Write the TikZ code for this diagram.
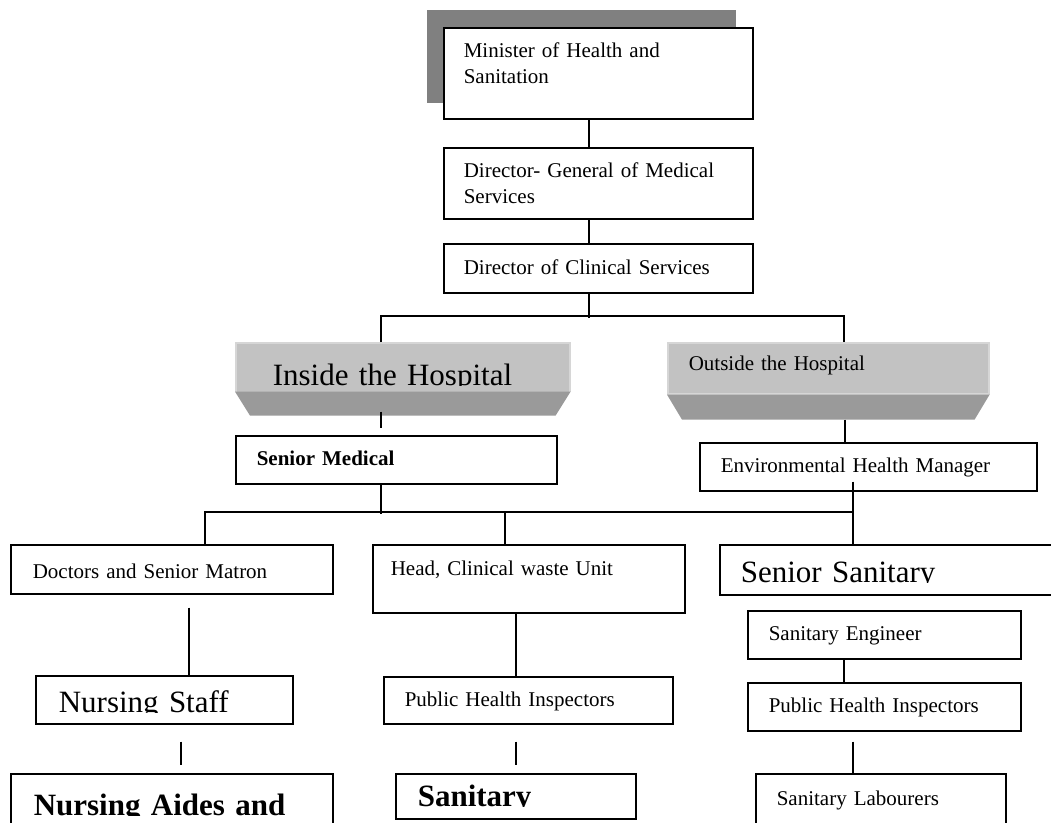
\documentclass[tikz,border=0pt]{standalone}
\usepackage{fontspec}
\setmainfont{Liberation Serif}
\usepackage{tikz}
\definecolor{shadowgray}{HTML}{808080}
\definecolor{bevellight}{HTML}{C2C2C2}
\definecolor{bevelrim}{HTML}{D6D6D6}
\definecolor{beveldark}{HTML}{9A9A9A}
\tikzset{
  orgbox/.style={draw,fill=white,line width=1.6pt,anchor=north west,align=left,
    inner ysep=0pt,font=\fontsize{21pt}{26pt}\selectfont},
  bevelbox/.style={draw=bevelrim,fill=bevellight,line width=1.6pt,anchor=north west,
    align=left,inner ysep=0pt,font=\fontsize{21pt}{26pt}\selectfont},
  boldtext/.style={font=\fontsize{21pt}{26pt}\selectfont\bfseries},
  bigtext/.style={font=\fontsize{31pt}{37pt}\selectfont},
  bigbold/.style={font=\fontsize{31pt}{37pt}\selectfont\bfseries},
  link/.style={line width=1.4pt}
}

\begin{document}
\begin{tikzpicture}[x=1pt,y=-1pt]
  \clip (0,0) rectangle (1051,822);

  % top of the chain
  \fill[shadowgray] (427,10) rectangle (736,103);
  \node[orgbox,text width=269pt,inner xsep=20pt,text height=30pt,text depth=61pt]
    (minister) at (443,27) {Minister of Health and\\Sanitation};
  \node[orgbox,text width=269pt,inner xsep=20pt,text height=30pt,text depth=41pt]
    (dgms) at (443,147) {Director- General of Medical\\Services};
  \node[orgbox,text width=269pt,inner xsep=20pt,text height=31pt,text depth=18pt]
    (dcs) at (443,243) {Director of Clinical Services};

  % the two branches
  \node[bevelbox,bigtext,text width=260pt,inner xsep=37pt,text height=43pt,text depth=5pt]
    (inside) at (235,342) {Inside the Hospital};
  \fill[bevellight] ([xshift=2pt,yshift=-0.5pt]inside.base west) rectangle ([xshift=-2pt]inside.south east);
  \fill[beveldark] (inside.south west) -- (inside.south east) -- ++(-15,24)
    -- ([shift={(15,24)}]inside.south west) -- cycle;
  \node[bevelbox,text width=279pt,inner xsep=21pt,text height=28pt,text depth=23pt]
    (outside) at (667,342) {Outside the Hospital};
  \fill[beveldark] (outside.south west) -- (outside.south east) -- ++(-15,25)
    -- ([shift={(15,25)}]outside.south west) -- cycle;

  \node[orgbox,boldtext,text width=279pt,inner xsep=21pt,text height=30pt,text depth=18pt]
    (senmed) at (235,435) {Senior Medical};
  \node[orgbox,text width=295pt,inner xsep=21pt,text height=30pt,text depth=18pt]
    (envman) at (699,442) {Environmental Health Manager};

  % third row
  \node[orgbox,text width=278pt,inner xsep=22pt,text height=34pt,text depth=15pt]
    (doctors) at (10,544) {Doctors and Senior Matron};
  \node[orgbox,text width=276pt,inner xsep=18pt,text height=31pt,text depth=37pt]
    (wastehead) at (372,544) {Head, Clinical waste Unit};
  \node[orgbox,bigtext,text width=309pt,inner xsep=21pt,text height=38pt,text depth=12pt]
    (sensan) at (719,544) {Senior Sanitary};

  % lower rows
  \node[orgbox,text width=231pt,inner xsep=21pt,text height=30pt,text depth=18pt]
    (saneng) at (747,610) {Sanitary Engineer};
  \node[orgbox,text width=231pt,inner xsep=21pt,text height=30pt,text depth=18pt]
    (phiout) at (747,682) {Public Health Inspectors};
  \node[orgbox,bigtext,text width=211pt,inner xsep=23pt,text height=37pt,text depth=11pt]
    (nurses) at (35,675) {Nursing Staff};
  \node[orgbox,text width=247pt,inner xsep=21pt,text height=30pt,text depth=17pt]
    (phiin) at (383,676) {Public Health Inspectors};
  \node[orgbox,bigbold,text width=276pt,inner xsep=23pt,text height=42pt,text depth=35pt]
    (aides) at (10,773) {Nursing Aides and};
  \node[orgbox,bigbold,text width=196pt,inner xsep=22pt,text height=33pt,text depth=12pt]
    (sanstaff) at (395,773) {Sanitary};
  \node[orgbox,text width=208pt,inner xsep=21pt,text height=32pt,text depth=45pt]
    (labourers) at (755,773) {Sanitary Labourers};

  % text cut off at the baseline
  \foreach \b in {nurses,sensan,aides,sanstaff}
    \fill[white] ([xshift=2pt,yshift=-0.5pt]\b.base west) rectangle ([xshift=-2pt,yshift=2pt]\b.south east);

  % connectors
  \draw[link] ([xshift=-9.5pt]minister.south) -- ([xshift=-9.5pt]dgms.north);
  \draw[link] ([xshift=-9.5pt]dgms.south) -- ([xshift=-9.5pt]dcs.north);
  \draw[link] ([xshift=-9.5pt]dcs.south) -- ++(0,24);
  \draw[link] ([xshift=-22pt]inside.north) -- ++(0,-26) -| ([xshift=15.5pt]outside.north);
  \draw[link,shorten <=20pt,shorten >=7pt] ([xshift=-22pt]inside.south) -- ([xshift=-15.5pt]senmed.north);
  \draw[link,shorten <=25pt] ([xshift=16.5pt]outside.south) -- ([xshift=-23.5pt]envman.north);
  \draw[link] ([xshift=-15.5pt]senmed.south) -- ++(0,29);
  \draw[link] ([xshift=33pt]doctors.north) -- ++(0,-32) -- ++(649,0);
  \draw[link] ([xshift=-24pt]wastehead.north) -- ++(0,-32);
  \draw[link] ([xshift=-15.5pt,yshift=10pt]envman.south) -- ([xshift=-42.5pt]sensan.north);
  \draw[link,shorten <=13pt] ([xshift=17pt]doctors.south) -- ([xshift=24.5pt]nurses.north);
  \draw[link,shorten <=17pt,shorten >=8pt] ([xshift=16.5pt]nurses.south) -- ([xshift=9pt]aides.north);
  \draw[link] ([xshift=-13pt]wastehead.south) -- ([xshift=-12.5pt]phiin.north);
  \draw[link,shorten <=17pt,shorten >=8pt] ([xshift=-12.5pt]phiin.south) -- (sanstaff.north);
  \draw[link] ([xshift=-40.5pt]saneng.south) -- ([xshift=-40.5pt]phiout.north);
  \draw[link,shorten <=10pt] ([xshift=-31.5pt]phiout.south) -- ([xshift=-28pt]labourers.north);
\end{tikzpicture}
\end{document}
